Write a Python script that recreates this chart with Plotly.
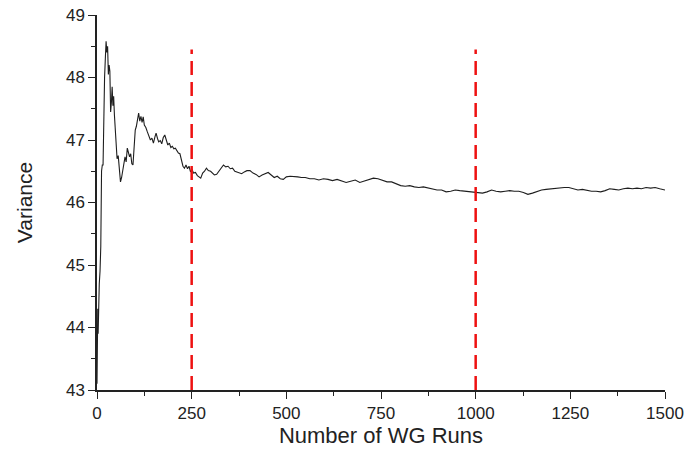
import plotly.graph_objects as go

runs = [
    0, 1, 2, 3, 4, 6, 8, 10, 12, 14,
    16, 18, 20, 22, 24, 26, 28, 30, 32, 34,
    36, 38, 40, 42, 44, 46, 48, 50, 53, 56,
    59, 62, 65, 68, 71, 74, 77, 80, 83, 86,
    89, 92, 95, 98, 101, 104, 107, 110, 113, 116,
    119, 122, 125, 129, 133, 137, 141, 145, 149, 153,
    156, 160, 163, 167, 171, 175, 179, 183, 187, 191,
    195, 199, 203, 207, 211, 215, 219, 223, 227, 231,
    235, 239, 243, 247, 251, 255, 260, 265, 270, 274,
    279, 284, 289, 294, 300, 305, 310, 316, 322, 328,
    334, 340, 346, 352, 358, 364, 370, 376, 382, 389,
    396, 404, 412, 420, 428, 436, 444, 452, 460, 468,
    476, 484, 492, 500, 510, 520, 530, 540, 550, 562,
    574, 586, 598, 610, 622, 634, 646, 658, 670, 682,
    694, 706, 718, 730, 742, 754, 766, 778, 790, 802,
    814, 826, 838, 850, 862, 874, 886, 898, 910, 922,
    934, 946, 958, 970, 982, 994, 1006, 1018, 1030, 1042,
    1054, 1066, 1078, 1090, 1102, 1114, 1126, 1138, 1150, 1162,
    1174, 1186, 1198, 1210, 1222, 1234, 1246, 1258, 1270, 1282,
    1294, 1306, 1318, 1330, 1342, 1354, 1366, 1378, 1390, 1402,
    1414, 1426, 1438, 1450, 1462, 1474, 1486, 1500,
]
variance = [
    43.1, 43.5, 44.3, 43.9, 44.6, 44.7, 44.9, 45.3, 46.5, 46.6,
    46.6, 47.6, 48.0, 48.3, 48.58, 48.4, 48.5, 48.05, 48.2, 48.1,
    47.45, 47.6, 47.85, 47.55, 47.7, 47.4, 47.2, 46.85, 46.7, 46.75,
    46.55, 46.33, 46.4, 46.52, 46.6, 46.73, 46.65, 46.87, 46.8, 46.73,
    46.78, 46.62, 46.6, 46.9, 47.16, 47.22, 47.3, 47.43, 47.3, 47.38,
    47.28, 47.37, 47.24, 47.2, 47.13, 47.06, 47.0, 47.03, 46.95, 47.05,
    47.11, 47.02, 46.97, 46.99, 46.94, 47.04, 47.08, 47.0, 46.92, 46.95,
    46.88, 46.9, 46.86, 46.87, 46.82, 46.79, 46.78, 46.66, 46.58, 46.55,
    46.6, 46.54, 46.58, 46.49, 46.53, 46.47, 46.48, 46.43, 46.41, 46.39,
    46.47, 46.5, 46.55, 46.51, 46.5, 46.47, 46.44, 46.45, 46.5, 46.56,
    46.6, 46.57, 46.58, 46.54, 46.55, 46.5, 46.49, 46.47, 46.46, 46.49,
    46.51, 46.51, 46.47, 46.45, 46.41, 46.44, 46.46, 46.48, 46.44, 46.4,
    46.42, 46.38, 46.37, 46.41, 46.42, 46.42, 46.41, 46.4, 46.4, 46.38,
    46.38, 46.36, 46.38, 46.37, 46.35, 46.37, 46.34, 46.32, 46.34, 46.36,
    46.32, 46.34, 46.37, 46.39, 46.38, 46.36, 46.33, 46.33, 46.3, 46.27,
    46.26, 46.27, 46.25, 46.24, 46.25, 46.23, 46.21, 46.2, 46.2, 46.17,
    46.18, 46.2, 46.19, 46.18, 46.17, 46.17, 46.16, 46.15, 46.17, 46.2,
    46.18, 46.17, 46.18, 46.19, 46.18, 46.18, 46.16, 46.13, 46.15, 46.18,
    46.2, 46.21, 46.22, 46.22, 46.23, 46.24, 46.24, 46.22, 46.2, 46.21,
    46.19, 46.18, 46.18, 46.17, 46.19, 46.22, 46.21, 46.2, 46.22, 46.23,
    46.22, 46.23, 46.22, 46.24, 46.23, 46.24, 46.22, 46.2,
]

marker_runs = [250, 1000]
marker_top = 48.45
y_min, y_max = 43, 49
x_min, x_max = 0, 1500
x_ticks = [0, 250, 500, 750, 1000, 1250, 1500]
y_ticks = [43, 44, 45, 46, 47, 48, 49]

FONT = "Liberation Sans, Arial, sans-serif"

fig = go.Figure()
fig.add_trace(go.Scatter(x=runs, y=variance, mode="lines",
                         line=dict(color="#1e1e1e", width=1.1), showlegend=False))

for xr in marker_runs:
    fig.add_shape(type="line", xref="x", yref="y", x0=xr, x1=xr, y0=y_min, y1=marker_top,
                  line=dict(color="#ee1111", width=2.5, dash="14px,7px"))

axis_common = dict(showline=True, linecolor="#222222", linewidth=1.5, ticks="outside", ticklen=7,
                   tickwidth=1.3, tickcolor="#222222", showgrid=False, zeroline=False, automargin=False,
                   tickfont=dict(family=FONT, size=17, color="#222222"))

fig.update_xaxes(range=[x_min, x_max], tickvals=x_ticks,
                 minor=dict(dtick=125, ticks="outside", ticklen=4, tickcolor="#222222", tickwidth=1.2),
                 title=dict(text="Number of WG Runs", standoff=3,
                            font=dict(family=FONT, size=22, color="#222222")),
                 **axis_common)
fig.update_yaxes(range=[y_min, y_max], tickvals=y_ticks,
                 minor=dict(dtick=0.5, ticks="outside", ticklen=4, tickcolor="#222222", tickwidth=1.2),
                 title=dict(text="Variance", standoff=28,
                            font=dict(family=FONT, size=21, color="#222222")),
                 **axis_common)

fig.update_layout(width=684, height=454, margin=dict(l=97, r=19, t=15, b=64),
                  plot_bgcolor="white", paper_bgcolor="white")

# remove the browser's default 8px body margin so the figure fills the window
fig.write_html("out.html", config={"displayModeBar": False},
               post_script="document.body.style.margin='0px';")
